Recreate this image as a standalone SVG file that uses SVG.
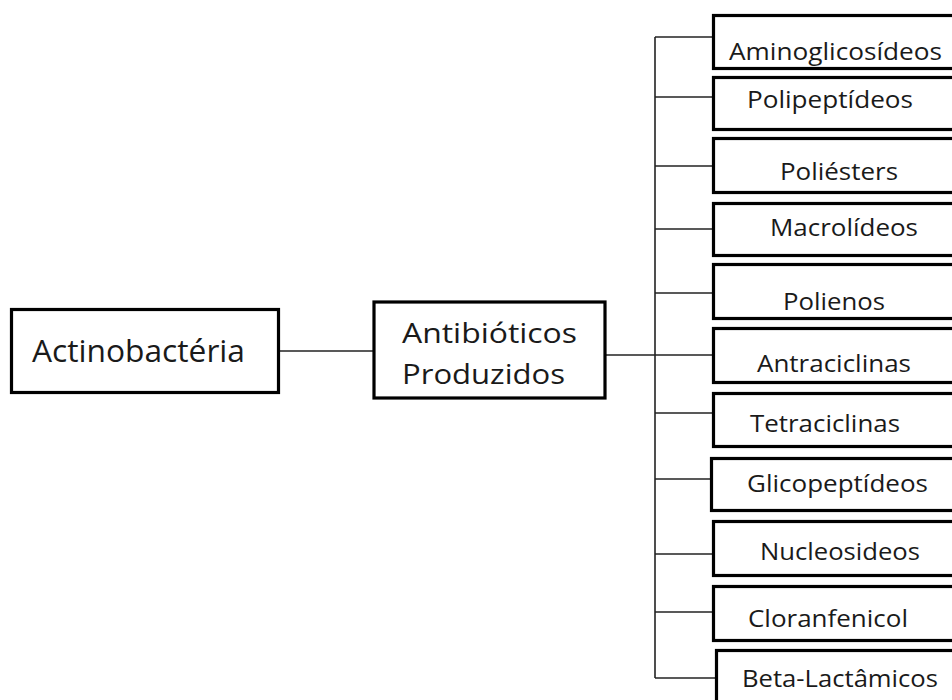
<svg xmlns="http://www.w3.org/2000/svg" width="952" height="700" viewBox="0 0 952 700">
<style>
.box{fill:#fff;stroke:#000;stroke-width:3.2}
.t{font-family:"Open Sans","Noto Sans","DejaVu Sans",sans-serif;fill:#1a1a1a}
.s{font-size:23.5px}
.c{fill:none;stroke:#222;stroke-width:1.6}
</style>
<rect width="952" height="700" fill="#fff"/>
<g id="connectors">
<line class="c" x1="280" y1="351" x2="373" y2="351"/>
<line class="c" x1="606" y1="355" x2="712" y2="355"/>
<line class="c" x1="655" y1="37" x2="655" y2="678"/>
<line class="c" x1="655" y1="37" x2="712" y2="37"/>
<line class="c" x1="655" y1="97" x2="712" y2="97"/>
<line class="c" x1="655" y1="166" x2="712" y2="166"/>
<line class="c" x1="655" y1="229" x2="712" y2="229"/>
<line class="c" x1="655" y1="293" x2="712" y2="293"/>
<line class="c" x1="655" y1="413" x2="712" y2="413"/>
<line class="c" x1="655" y1="479" x2="710" y2="479"/>
<line class="c" x1="655" y1="554" x2="712" y2="554"/>
<line class="c" x1="655" y1="612" x2="712" y2="612"/>
<line class="c" x1="655" y1="678" x2="715" y2="678"/>
</g>
<g id="actinobacteria">
<rect class="box" x="11.5" y="309.5" width="267" height="83"/>
<text class="t" x="32" y="362" font-size="30.5" textLength="213" lengthAdjust="spacingAndGlyphs">Actinobactéria</text>
</g>
<g id="antibioticos">
<rect class="box" x="374" y="302" width="231" height="96"/>
<text class="t" x="402" y="343" font-size="27.5" textLength="175" lengthAdjust="spacingAndGlyphs">Antibióticos</text>
<text class="t" x="402" y="384" font-size="27.5" textLength="163" lengthAdjust="spacingAndGlyphs">Produzidos</text>
</g>
<g id="aminoglicosideos">
<rect class="box" x="713.5" y="15.5" width="247" height="53"/>
<text class="t s" x="729" y="60" textLength="213" lengthAdjust="spacingAndGlyphs">Aminoglicosídeos</text>
</g>
<g id="polipeptideos">
<rect class="box" x="713.5" y="77.5" width="247" height="52"/>
<text class="t s" x="747" y="108" textLength="166" lengthAdjust="spacingAndGlyphs">Polipeptídeos</text>
</g>
<g id="poliesters">
<rect class="box" x="713.5" y="138.5" width="247" height="54"/>
<text class="t s" x="780" y="180" textLength="118" lengthAdjust="spacingAndGlyphs">Poliésters</text>
</g>
<g id="macrolideos">
<rect class="box" x="713.5" y="203.5" width="247" height="52"/>
<text class="t s" x="770" y="236" textLength="148" lengthAdjust="spacingAndGlyphs">Macrolídeos</text>
</g>
<g id="polienos">
<rect class="box" x="713.5" y="264.5" width="247" height="54"/>
<text class="t s" x="783" y="310" textLength="102" lengthAdjust="spacingAndGlyphs">Polienos</text>
</g>
<g id="antraciclinas">
<rect class="box" x="713.5" y="328.5" width="247" height="54"/>
<text class="t s" x="757" y="372" textLength="154" lengthAdjust="spacingAndGlyphs">Antraciclinas</text>
</g>
<g id="tetraciclinas">
<rect class="box" x="713.5" y="393.5" width="247" height="53"/>
<text class="t s" x="750" y="432" textLength="150" lengthAdjust="spacingAndGlyphs">Tetraciclinas</text>
</g>
<g id="glicopeptideos">
<rect class="box" x="711.5" y="458.5" width="249" height="52"/>
<text class="t s" x="747" y="492" textLength="181" lengthAdjust="spacingAndGlyphs">Glicopeptídeos</text>
</g>
<g id="nucleosideos">
<rect class="box" x="713.5" y="521.5" width="247" height="54"/>
<text class="t s" x="760" y="560" textLength="160" lengthAdjust="spacingAndGlyphs">Nucleosideos</text>
</g>
<g id="cloranfenicol">
<rect class="box" x="713.5" y="586.5" width="247" height="54"/>
<text class="t s" x="748" y="627" textLength="160" lengthAdjust="spacingAndGlyphs">Cloranfenicol</text>
</g>
<g id="betalactamicos">
<rect class="box" x="716.5" y="650.5" width="244" height="70"/>
<text class="t s" x="742" y="687" textLength="196" lengthAdjust="spacingAndGlyphs">Beta-Lactâmicos</text>
</g>
</svg>
